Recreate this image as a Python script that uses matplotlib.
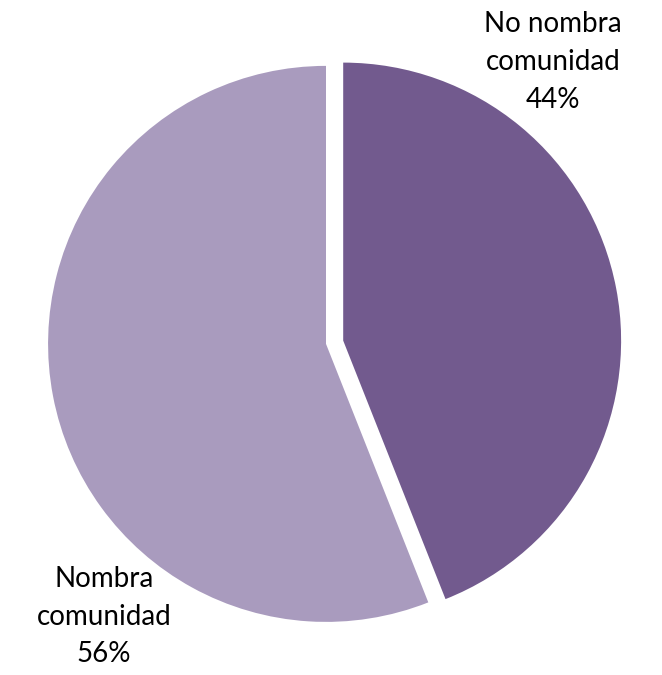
import matplotlib.pyplot as plt

labels = ["No nombra\ncomunidad", "Nombra\ncomunidad"]
values = [44, 56]
colors = ["#725A8E", "#A99BBE"]
explode = [0.063, 0]

fig = plt.figure(figsize=(6.62, 6.75), dpi=100)
ax = fig.add_axes([0, 0, 1, 1])
ax.pie(values, colors=colors, explode=explode, startangle=90, counterclock=False,
       wedgeprops=dict(linewidth=0))
ax.set_aspect("auto")
ax.set_xlim(-1.173, 1.209)
ax.set_ylim(-1.191, 1.237)
ax.axis("off")

# label positions
label_pos = [(0.817, 1.014), (-0.799, -0.982)]
for lab, v, (x, y) in zip(labels, values, label_pos):
    ax.text(x, y, f"{lab}\n{v}%", ha="center", va="center", fontsize=20,
            family="Lato", linespacing=1.55, color="black")

fig.savefig("out.png", dpi=100)
